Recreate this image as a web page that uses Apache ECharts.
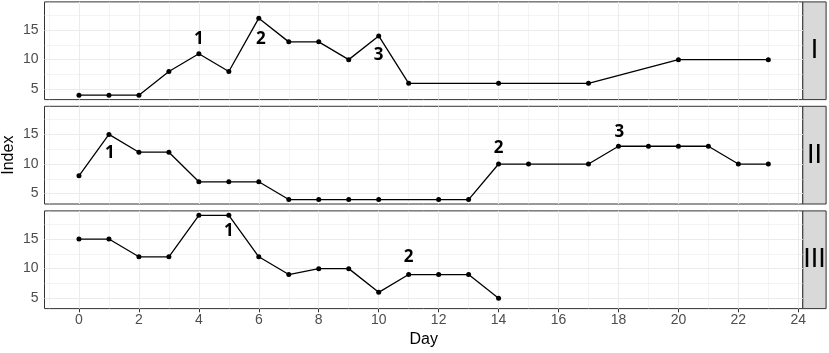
<!DOCTYPE html>
<html>
<head>
<meta charset="utf-8">
<script src="https://cdn.jsdelivr.net/npm/echarts@6/dist/echarts.min.js"></script>
<style>
  html, body { margin: 0; padding: 0; background: #fff; }
  #chart { width: 829px; height: 353px; }
</style>
</head>
<body>
<div id="chart"></div>
<script>
// panel I
var daysI = [0, 1, 2, 3, 4, 5, 6, 7, 8, 9, 10, 11, 14, 17, 20, 23];
var indexI = [4, 4, 4, 8, 11, 8, 17, 13, 13, 10, 14, 6, 6, 6, 10, 10];
// panel II
var daysII = [0, 1, 2, 3, 4, 5, 6, 7, 8, 9, 10, 12, 13, 14, 15, 17, 18, 19, 20, 21, 22, 23];
var indexII = [8, 15, 12, 12, 7, 7, 7, 4, 4, 4, 4, 4, 4, 10, 10, 10, 13, 13, 13, 13, 10, 10];
// panel III
var daysIII = [0, 1, 2, 3, 4, 5, 6, 7, 8, 9, 10, 11, 12, 13, 14];
var indexIII = [15, 15, 12, 12, 19, 19, 12, 9, 10, 10, 6, 9, 9, 9, 5];

// numbered notes written in each panel (x, y, text)
var noteXI = [4, 6.07, 10];
var noteYI = [13.4, 13.4, 10.7];
var noteXII = [1.03, 14, 18.03];
var noteYII = [11.8, 12.6, 15.3];
var noteXIII = [5, 11];
var noteYIII = [16.3, 11.9];
var noteText = ['1', '2', '3'];

var panelNames = ['I', 'II', 'III'];
var xMajor = [0, 2, 4, 6, 8, 10, 12, 14, 16, 18, 20, 22, 24];
var xMinor = [-1, 1, 3, 5, 7, 9, 11, 13, 15, 17, 19, 21, 23];
var yMajor = [5, 10, 15];
var yMinor = [7.5, 12.5, 17.5];

var panels = [
  { days: daysI, index: indexI, nx: noteXI, ny: noteYI },
  { days: daysII, index: indexII, nx: noteXII, ny: noteYII },
  { days: daysIII, index: indexIII, nx: noteXIII, ny: noteYIII }
];

// layout (pixels)
var left = 44.5, right = 26.2, panelH = 97.7;
var tops = [1.9, 106.3, 210.9];
var stripX = 802.8, stripW = 23.3;
var font = 'Liberation Sans';

var chart = echarts.init(document.getElementById('chart'));

var grids = [], xAxes = [], yAxes = [], series = [], graphics = [];

// grid lines drawn through the axes as mark lines
function gridLines() {
  var d = [];
  xMinor.forEach(function (v) { d.push({ xAxis: v, lineStyle: { width: 0.55 } }); });
  yMinor.forEach(function (v) { d.push({ yAxis: v, lineStyle: { width: 0.55 } }); });
  xMajor.forEach(function (v) { d.push({ xAxis: v, lineStyle: { width: 1.1 } }); });
  yMajor.forEach(function (v) { d.push({ yAxis: v, lineStyle: { width: 1.1 } }); });
  return d;
}

panels.forEach(function (p, i) {
  var bottom = i === 2;
  grids.push({
    left: left, right: right, top: tops[i], height: panelH,
    show: true, borderColor: '#333333', borderWidth: 1, backgroundColor: '#fff',
    containLabel: false, outerBoundsMode: 'none'
  });
  xAxes.push({
    type: 'value', gridIndex: i, min: -1.15, max: 24.15,
    axisLine: { show: false },
    splitLine: { show: false },
    axisTick: { show: bottom, length: 3.7, lineStyle: { color: '#333333', width: 1 }, customValues: xMajor },
    axisLabel: { show: bottom, customValues: xMajor, color: '#4d4d4d', fontSize: 14, fontFamily: font, margin: 5 },
    name: bottom ? 'Day' : '', nameLocation: 'middle', nameGap: 23, nameMoveOverlap: false,
    nameTextStyle: { color: '#000', fontSize: 16, fontFamily: font }
  });
  yAxes.push({
    type: 'value', gridIndex: i, min: 3.25, max: 19.75,
    axisLine: { show: false },
    splitLine: { show: false },
    axisTick: { show: true, length: 3.7, lineStyle: { color: '#333333', width: 1 }, customValues: yMajor },
    axisLabel: { customValues: yMajor, color: '#4d4d4d', fontSize: 14, fontFamily: font, margin: 6 },
    name: i === 1 ? 'Index' : '', nameLocation: 'middle', nameGap: 28, nameRotate: 90, nameMoveOverlap: false,
    nameTextStyle: { color: '#000', fontSize: 16, fontFamily: font }
  });
  series.push({
    type: 'line', xAxisIndex: i, yAxisIndex: i, z: 3,
    data: p.days.map(function (d, k) { return [d, p.index[k]]; }),
    symbol: 'circle', symbolSize: 5, showSymbol: true,
    lineStyle: { color: '#000', width: 1.3 },
    itemStyle: { color: '#000' },
    animation: false,
    markLine: {
      silent: true, symbol: 'none', z: 1, animation: false,
      label: { show: false },
      lineStyle: { color: '#ebebeb', type: 'solid' },
      emphasis: { disabled: true },
      data: gridLines()
    }
  });
  series.push({
    type: 'scatter', xAxisIndex: i, yAxisIndex: i, z: 4,
    symbolSize: 1, silent: true, animation: false,
    itemStyle: { opacity: 0 },
    data: p.nx.map(function (x, k) { return [x, p.ny[k], noteText[k]]; }),
    label: {
      show: true, position: 'inside', color: '#000', opacity: 1,
      fontFamily: 'Open Sans', fontWeight: 'bold', fontSize: 17,
      textBorderWidth: 0,
      formatter: function (q) { return q.value[2]; }
    }
  });
  graphics.push({
    type: 'rect', silent: true,
    shape: { x: stripX, y: tops[i], width: stripW, height: panelH },
    style: { fill: '#d9d9d9', stroke: '#333333', lineWidth: 1 }
  });
  graphics.push({
    type: 'text', silent: true,
    x: stripX + stripW / 2, y: tops[i] + panelH / 2,
    style: { text: panelNames[i], fill: '#000', font: '27px "Liberation Sans"', align: 'center', verticalAlign: 'middle' }
  });
});

chart.setOption({
  animation: false,
  backgroundColor: '#fff',
  grid: grids,
  xAxis: xAxes,
  yAxis: yAxes,
  series: series,
  graphic: graphics
});
</script>
</body>
</html>
